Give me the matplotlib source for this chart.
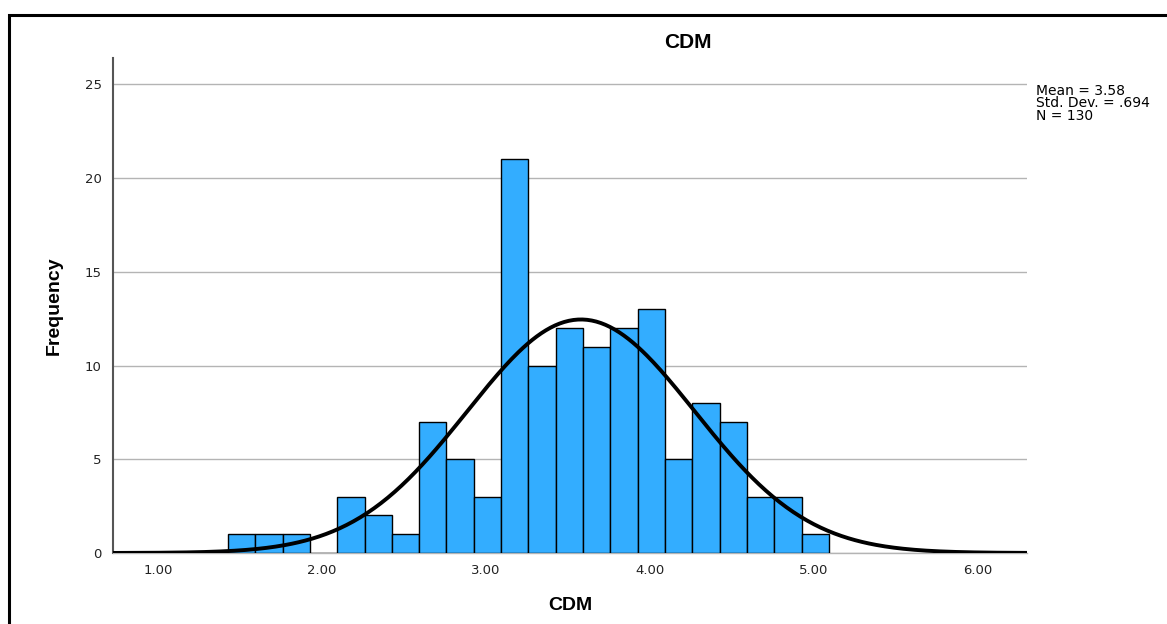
import numpy as np
import matplotlib
matplotlib.use('Agg')
from matplotlib import pyplot as plt
from matplotlib.patches import Rectangle

# histogram data
bin_start = 1.4267
bin_width = 1.0 / 6.0
counts = [1, 1, 1, 0, 3, 2, 1, 7, 5, 3, 21, 10, 12, 11, 12, 13, 5, 8, 7, 3, 3, 1]
mean = 3.58
std = 0.694
n = 130
x_ticks = [1.0, 2.0, 3.0, 4.0, 5.0, 6.0]
x_tick_labels = ['1.00', '2.00', '3.00', '4.00', '5.00', '6.00']
y_ticks = [0, 5, 10, 15, 20, 25]

plt.rcParams['font.family'] = ['Liberation Sans', 'DejaVu Sans']
bold_font = ['Liberation Sans', 'DejaVu Sans']
tick_font = ['DejaVu Sans']

fig = plt.figure(figsize=(11.67, 6.24), dpi=100)
ax = fig.add_axes([0.0968, 0.1138, 0.7832, 0.7932])

# bars
edges = bin_start + bin_width * np.arange(len(counts) + 1)
ax.bar(edges[:-1], counts, width=bin_width, align='edge', color='#33adff',
       edgecolor='black', linewidth=1.0, zorder=3)

# normal curve scaled to the histogram
xs = np.linspace(0.726, 6.30, 400)
pdf = np.exp(-0.5 * ((xs - mean) / std) ** 2) / (std * np.sqrt(2 * np.pi))
ax.plot(xs, n * bin_width * pdf, color='black', linewidth=2.8, zorder=4,
        solid_capstyle='round')

ax.set_xlim(0.726, 6.30)
ax.set_ylim(0, 26.4)
ax.set_xticks(x_ticks)
ax.set_xticklabels(x_tick_labels, family=tick_font, fontsize=9.5)
ax.set_yticks(y_ticks)
ax.set_yticklabels([str(v) for v in y_ticks], family=tick_font, fontsize=9.5)
ax.tick_params(length=0, colors='#222222', pad=8)
ax.yaxis.grid(True, color='#b4b4b4', linewidth=1.0, zorder=0)
for s in ['top', 'right']:
    ax.spines[s].set_visible(False)
ax.spines['left'].set_color('#555555')
ax.spines['left'].set_linewidth(1.5)
ax.spines['bottom'].set_color('#b4b4b4')
ax.spines['bottom'].set_linewidth(1.0)

# title sits right of the axes centre in the original
fig.text(688 / 1167, 1 - 43 / 624, 'CDM', fontsize=15, fontweight='bold',
         family=bold_font, ha='center', va='center')
ax.set_xlabel('CDM', fontsize=14, fontweight='bold', family=bold_font,
              labelpad=14)
ax.set_ylabel('Frequency', fontsize=14, fontweight='bold', family=bold_font,
              labelpad=16)

fig.text(1036 / 1167, 1 - 84 / 624, 'Mean = 3.58\nStd. Dev. = .694\nN = 130',
         fontsize=10, family=tick_font, va='top', ha='left',
         linespacing=0.85)

# outer frame
fig.patches.append(Rectangle((9 / 1167, -0.05), 1.2, 1 - 15 / 624 + 0.05,
                             transform=fig.transFigure, fill=False,
                             edgecolor='black', linewidth=2.2))

fig.savefig('out.png', dpi=100)
